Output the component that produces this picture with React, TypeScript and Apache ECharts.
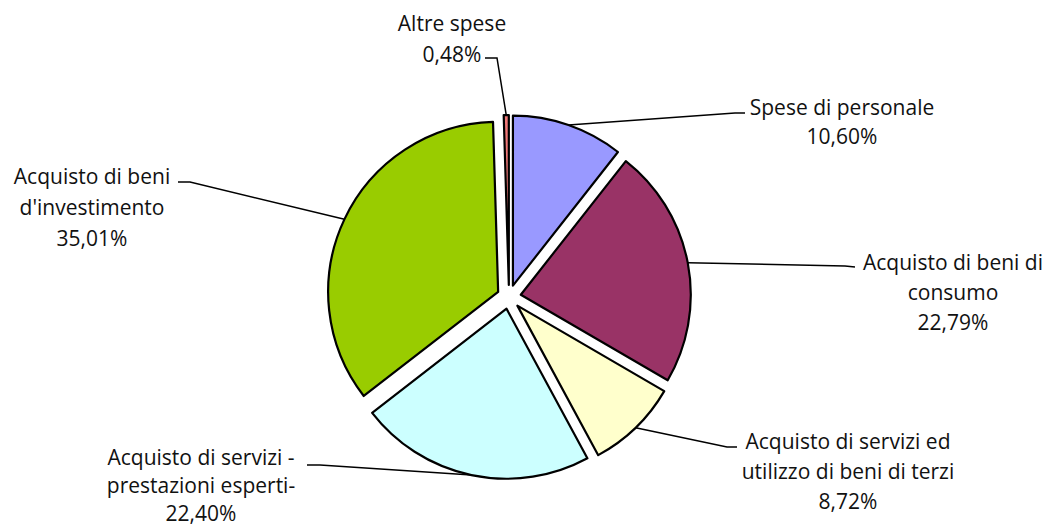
import React, { useEffect, useRef } from "react";
import * as echarts from "echarts";

const categories = [
  "Spese di personale",
  "Acquisto di beni di consumo",
  "Acquisto di servizi ed utilizzo di beni di terzi",
  "Acquisto di servizi - prestazioni esperti-",
  "Acquisto di beni d'investimento",
  "Altre spese",
];
const labelTexts = [
  "Spese di personale",
  "Acquisto di beni di\nconsumo",
  "Acquisto di servizi ed\nutilizzo di beni di terzi",
  "Acquisto di servizi -\nprestazioni esperti-",
  "Acquisto di beni\nd'investimento",
  "Altre spese",
];
const values = [10.6, 22.79, 8.72, 22.4, 35.01, 0.48];
const colors = ["#9999FF", "#993366", "#FFFFCC", "#CCFFFF", "#99CC00", "#F07878"];

// layout (not data)
const CENTER = [509, 297];
const RADIUS = 170;
const OFFSET = 12;
const labelAnchors = [
  [842, 92],
  [953, 247],
  [848, 426],
  [201, 443],
  [92, 160],
  [452, 7],
];
const labelLineHeights = [29, 30, 30, 28, 31, 31];
const leaderTails = [
  [[735, 113], [745, 113]],
  [[845, 266], [855, 267]],
  [[727, 447], [737, 447]],
  [[320, 465], [307, 465]],
  [[190, 182], [178, 182]],
  [[497, 58], [485, 58]],
];

const fmt = (v: number) => v.toFixed(2).replace(".", ",") + "%";

export default function App() {
  const ref = useRef<HTMLDivElement>(null);
  useEffect(() => {
    if (!ref.current) return;
    const chart = echarts.init(ref.current, null, { renderer: "svg" });
    chart.setOption({
      animation: false,
      backgroundColor: "#ffffff",
      series: [
        {
          type: "pie",
          center: CENTER,
          radius: [0, RADIUS],
          startAngle: 90,
          clockwise: true,
          selectedMode: "multiple",
          selectedOffset: OFFSET,
          emphasis: { disabled: true },
          silent: true,
          itemStyle: { borderColor: "#000", borderWidth: 2.2 },
          label: { show: false },
          labelLine: { show: false },
          data: categories.map((n, i) => ({
            name: n,
            value: values[i],
            selected: true,
            itemStyle: { color: colors[i] },
          })),
        },
        {
          type: "pie",
          center: CENTER,
          radius: [0, RADIUS],
          startAngle: 90,
          clockwise: true,
          selectedMode: false,
          avoidLabelOverlap: false,
          emphasis: { disabled: true },
          silent: true,
          itemStyle: { color: "rgba(0,0,0,0)", borderWidth: 0 },
          label: {
            show: true,
            position: "outside",
            color: "#111",
            fontFamily: "Open Sans",
            fontSize: 21,
            lineHeight: 30,
            align: "center",
            formatter: (p: any) => labelTexts[p.dataIndex] + "\n" + fmt(p.value),
          },
          labelLine: {
            show: true,
            lineStyle: { color: "#000", width: 1.5 },
          },
          labelLayout: (p: any) => {
            const i = p.dataIndex;
            const s = p.labelLinePoints ? p.labelLinePoints[0] : CENTER;
            const dx = s[0] - CENTER[0];
            const dy = s[1] - CENTER[1];
            const d = Math.sqrt(dx * dx + dy * dy) || 1;
            const k = (d + OFFSET) / d;
            const start = [CENTER[0] + dx * k, CENTER[1] + dy * k];
            return {
              x: labelAnchors[i][0],
              y: labelAnchors[i][1],
              align: "center",
              verticalAlign: "top",
              labelLinePoints: [start, leaderTails[i][0], leaderTails[i][1]],
            };
          },
          data: categories.map((n, i) => ({
            name: n,
            value: values[i],
            label: { lineHeight: labelLineHeights[i] },
          })),
        },
      ],
    });
    return () => chart.dispose();
  }, []);
  return (
    <div
      ref={ref}
      style={{ position: "fixed", left: 0, top: 0, width: 1051, height: 529 }}
    />
  );
}
